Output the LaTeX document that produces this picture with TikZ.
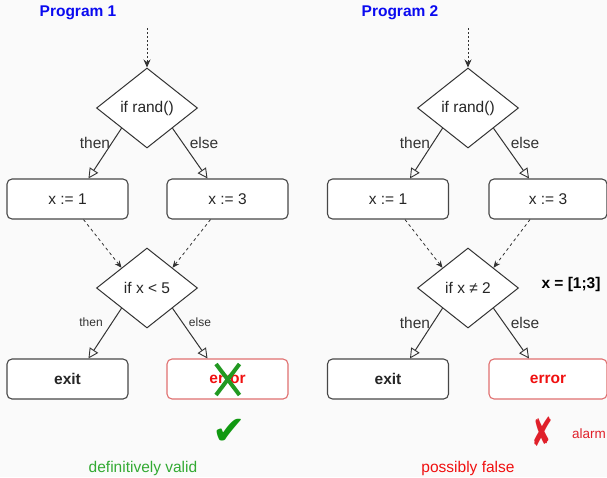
\documentclass[tikz,border=0pt]{standalone}
\usepackage{fontspec}
\setmainfont{Liberation Sans}
\newfontfamily\symfont{DejaVu Sans}
\usetikzlibrary{shapes.geometric,arrows.meta,calc}
\definecolor{bgc}{HTML}{FAFAFA}
\definecolor{linec}{HTML}{333333}
\definecolor{titleblue}{HTML}{0A0AF0}
\definecolor{errred}{HTML}{F01010}
\definecolor{errborder}{HTML}{E07070}
\definecolor{okgreen}{HTML}{119911}
\definecolor{txtgreen}{HTML}{33AA33}
\definecolor{xgreen}{HTML}{229922}
\definecolor{alarmred}{HTML}{E0202A}
\begin{document}
\begin{tikzpicture}[x=1pt,y=-1pt,
  every node/.style={font=\fontsize{15.5}{18}\selectfont, text=black!85},
  cond/.style={diamond, draw=linec, fill=white, line width=1pt, minimum width=101pt, minimum height=80pt, inner sep=0pt},
  stmt/.style={rectangle, rounded corners=5pt, draw=linec!90, fill=white, line width=1.1pt, minimum width=121pt, minimum height=40pt, inner sep=0pt},
  errbox/.style={stmt, draw=errborder, text=errred, font=\fontsize{15.5}{18}\selectfont\bfseries},
  exitbox/.style={stmt, font=\fontsize{15.5}{18}\selectfont\bfseries},
  flow/.style={draw=linec, line width=1pt, -{Triangle[open, length=10pt, width=10pt, line width=0.9pt]}},
  dashflow/.style={draw=linec, line width=0.8pt, dash pattern=on 3pt off 3pt, -{Stealth[length=7pt, width=6pt]}},
  dotflow/.style={draw=linec, line width=0.9pt, dash pattern=on 2pt off 2pt, -{Stealth[length=8pt, width=7pt]}},
  title/.style={font=\fontsize{15.5}{18}\selectfont\bfseries, text=titleblue},
  lab/.style={font=\fontsize{15.5}{18}\selectfont, text=black!80},
  smalllab/.style={font=\fontsize{12}{14}\selectfont, text=black!80}
]
\useasboundingbox (0,0) rectangle (607,477);
\fill[bgc] (0,0) rectangle (607,477);
\clip (0,0) rectangle (607,477);

% ---------- Program 1 ----------
\node[title] (t1) at (78,13) {Program 1};
\coordinate (s1) at (147,28);
\node[cond] (d1) at (147,108) {if rand()};
\node[stmt] (b1) at (67.5,199) {x := 1};
\node[stmt] (b2) at (227.5,199) {x := 3};
\node[cond] (d2) at (147,288) {if x < 5};
\node[exitbox] (e1) at (67.5,379) {exit};
\node[errbox] (r1) at (227.5,379) {error};

\draw[dotflow] (s1) -- (d1.north);
\draw[flow] (d1.south west) -- ($(b1.north)+(21,0)$);
\draw[flow] (d1.south east) -- ($(b2.north)+(-20,0)$);
\node[lab] (l1) at (95,143) {then};
\node[lab] (l2) at (204,143) {else};
\draw[dashflow] ($(b1.south)+(16,0)$) -- (d2.north west);
\draw[dashflow] ($(b2.south)+(-17,0)$) -- (d2.north east);
\draw[flow] (d2.south west) -- ($(e1.north)+(21,0)$);
\draw[flow] (d2.south east) -- ($(r1.north)+(-20,0)$);
\node[smalllab] (l3) at (91,322) {then};
\node[smalllab] (l4) at (200,322) {else};

\draw[xgreen, line width=4pt] (216,364) -- (239.5,395);
\draw[xgreen, line width=4pt] (239.5,364) -- (216,395);
\node[text=okgreen, font=\symfont\fontsize{40}{42}\selectfont] (ck) at (229,432) {✔};
\node[text=txtgreen] (v1) at (143,468) {definitively valid};

% ---------- Program 2 ----------
\node[title] (t2) at (400,13) {Program 2};
\coordinate (s2) at (468,28);
\node[cond] (d3) at (468,108) {if rand()};
\node[stmt] (b3) at (388,199) {x := 1};
\node[stmt, minimum width=118pt] (b4) at (548,199) {x := 3};
\node[cond] (d4) at (468,288) {if x ≠ 2};
\node[exitbox] (e2) at (388,379) {exit};
\node[errbox, minimum width=118pt] (r2) at (548,379) {error};

\draw[dotflow] (s2) -- (d3.north);
\draw[flow] (d3.south west) -- ($(b3.north)+(22,0)$);
\draw[flow] (d3.south east) -- ($(b4.north)+(-19,0)$);
\node[lab] (l5) at (415,143) {then};
\node[lab] (l6) at (525,143) {else};
\draw[dashflow] ($(b3.south)+(17,0)$) -- (d4.north west);
\draw[dashflow] ($(b4.south)+(-18,0)$) -- (d4.north east);
\draw[flow] (d4.south west) -- ($(e2.north)+(22,0)$);
\draw[flow] (d4.south east) -- ($(r2.north)+(-19,0)$);
\node[lab] (l7) at (415,323) {then};
\node[lab] (l8) at (525,323) {else};

\node[font=\fontsize{15.5}{18}\selectfont\bfseries, text=black] (iv) at (571,284) {x = [1;3]};
\node[text=alarmred, font=\symfont\fontsize{40}{42}\selectfont, xscale=0.65] (cx) at (542,432) {✘};
\node[text=alarmred, font=\fontsize{13.5}{16}\selectfont] (al) at (589,434) {alarm};
\node[text=errred] (pf) at (468,468) {possibly false};
\end{tikzpicture}
\end{document}
